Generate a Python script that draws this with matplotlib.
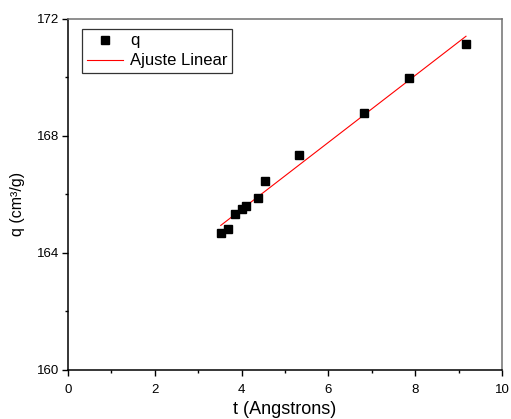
import numpy as np
import matplotlib.pyplot as plt
from matplotlib.ticker import MultipleLocator

plt.rcParams['font.family'] = ['Liberation Sans', 'DejaVu Sans']

# data
t_vals = [3.52, 3.68, 3.84, 4.01, 4.09, 4.37, 4.53, 5.33, 6.83, 7.86, 9.17]
q_vals = [164.70, 164.81, 165.33, 165.50, 165.60, 165.87, 166.45, 167.36, 168.80, 169.99, 171.15]

t = np.array(t_vals)
q = np.array(q_vals)

# linear fit
coef = np.polyfit(t, q, 1)
t_fit = np.array([t.min(), t.max()])
q_fit = np.polyval(coef, t_fit)

fig = plt.figure(figsize=(5.11, 4.19), dpi=100)
ax = fig.add_axes([68 / 511, 49 / 419, 434 / 511, 351 / 419])

ax.plot(t, q, 's', color='black', markersize=5.8, label='q', zorder=3)
ax.plot(t_fit, q_fit, '-', color='red', lw=0.8, label='Ajuste Linear', zorder=2)

ax.set_xlim(0, 10)
ax.set_ylim(160, 172)
ax.xaxis.set_major_locator(MultipleLocator(2))
ax.xaxis.set_minor_locator(MultipleLocator(1))
ax.yaxis.set_major_locator(MultipleLocator(4))
ax.yaxis.set_minor_locator(MultipleLocator(2))
ax.tick_params(which='both', direction='out', top=False, right=False, labelsize=9.5)
ax.tick_params(which='major', length=4, width=1)
ax.tick_params(which='minor', length=2.2, width=1)
ax.tick_params(axis='x', which='major', pad=6)
ax.tick_params(axis='y', which='major', pad=2.5)

for s in ['left', 'bottom']:
    ax.spines[s].set_linewidth(1.1)
for s in ['top', 'right']:
    ax.spines[s].set_linewidth(1.1)
    ax.spines[s].set_color('#707070')

ax.set_xlabel('t (Angstrons)', fontsize=13, labelpad=4)
ax.set_ylabel('q (cm³/g)', fontsize=11.5)
ax.yaxis.set_label_coords(-0.099, 0.474)

leg = ax.legend(loc='upper left', bbox_to_anchor=(0.032, 0.972), fontsize=12,
                frameon=True, fancybox=False, borderpad=0.28, labelspacing=0.3,
                handlelength=2.2, handletextpad=0.4, borderaxespad=0, numpoints=1,
                markerscale=0.9)
leg.get_frame().set_edgecolor('black')
leg.get_frame().set_linewidth(0.9)

plt.savefig('out.png', dpi=100)
